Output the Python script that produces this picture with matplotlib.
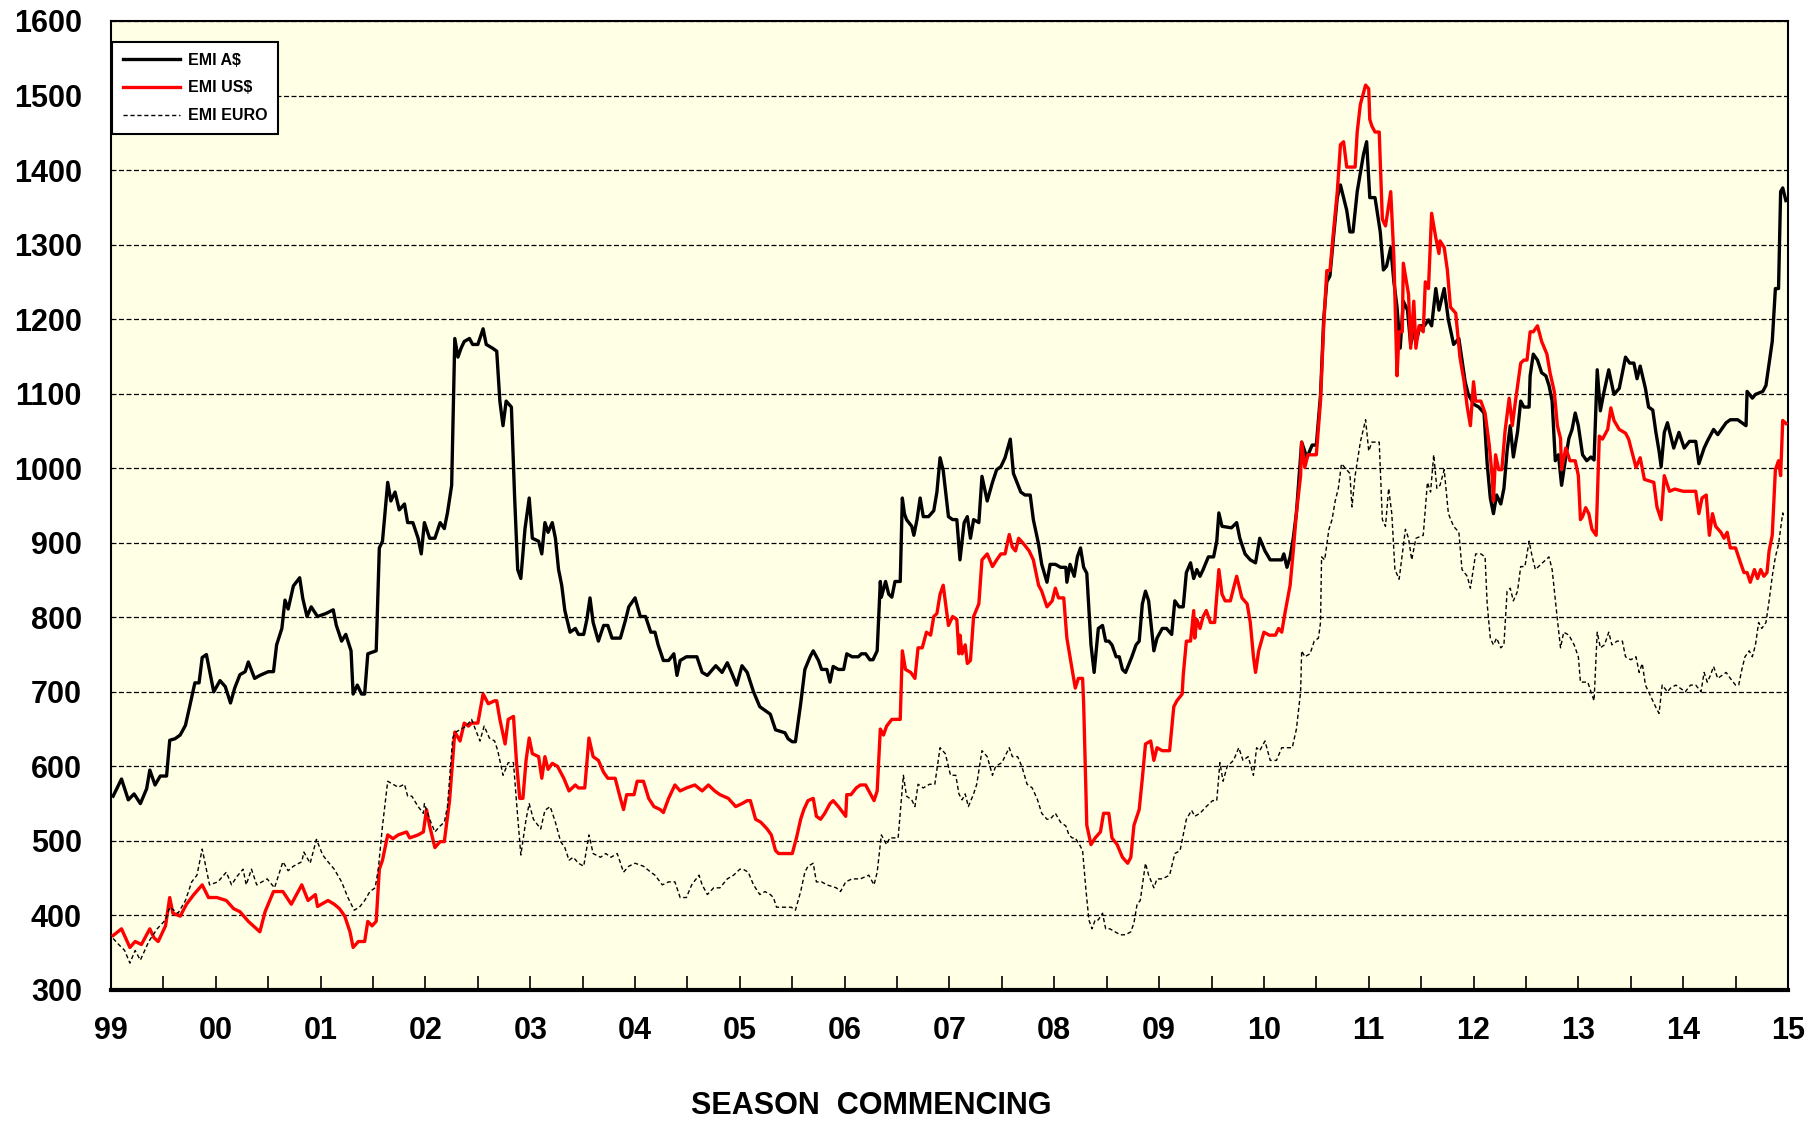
import matplotlib
matplotlib.use("Agg")
import matplotlib.pyplot as plt
from matplotlib.ticker import MultipleLocator

plt.rcParams['font.family'] = ['Liberation Sans', 'DejaVu Sans']
plt.rcParams['font.weight'] = 'bold'

# EMI weekly indicator. x = seasons since July 1999
aud_pts = [
    (0.02, 560), (0.1, 583), (0.165, 555), (0.22, 563), (0.28, 550), (0.34, 570), (0.37, 595),
    (0.42, 575), (0.47, 587), (0.53, 587), (0.56, 635), (0.61, 637), (0.66, 642), (0.71, 655),
    (0.75, 680), (0.8, 712), (0.84, 712), (0.87, 746), (0.91, 750), (0.98, 700), (1.04, 715),
    (1.09, 707), (1.14, 685), (1.18, 705), (1.23, 723), (1.28, 727), (1.31, 740), (1.37, 718),
    (1.42, 722), (1.5, 727), (1.55, 727), (1.58, 763), (1.63, 785), (1.66, 823), (1.69, 811),
    (1.74, 842), (1.8, 853), (1.83, 825), (1.87, 801), (1.91, 814), (1.97, 801), (2.05, 805),
    (2.12, 810), (2.15, 789), (2.2, 768), (2.24, 777), (2.29, 755), (2.31, 697), (2.35, 709),
    (2.39, 697), (2.42, 697), (2.45, 751), (2.53, 755), (2.56, 893), (2.59, 902), (2.64, 981),
    (2.67, 956), (2.71, 968), (2.75, 944), (2.8, 952), (2.83, 927), (2.88, 927), (2.93, 906),
    (2.96, 885), (2.99, 927), (3.04, 906), (3.09, 906), (3.14, 927), (3.18, 919), (3.21, 940),
    (3.25, 977), (3.28, 1174), (3.31, 1149), (3.34, 1161), (3.37, 1170), (3.42, 1174),
    (3.45, 1166), (3.5, 1166), (3.55, 1187), (3.58, 1166), (3.64, 1161), (3.68, 1157),
    (3.71, 1090), (3.74, 1057), (3.77, 1090), (3.82, 1082), (3.85, 964), (3.88, 864),
    (3.91, 852), (3.95, 919), (3.99, 960), (4.02, 906), (4.08, 902), (4.11, 885), (4.14, 927),
    (4.17, 914), (4.21, 927), (4.24, 906), (4.27, 864), (4.3, 843), (4.33, 809), (4.38, 780),
    (4.43, 785), (4.46, 777), (4.51, 777), (4.54, 797), (4.57, 826), (4.6, 793), (4.65, 768),
    (4.7, 789), (4.74, 789), (4.78, 772), (4.86, 772), (4.91, 797), (4.94, 814), (5.0, 826),
    (5.05, 801), (5.1, 801), (5.15, 780), (5.19, 780), (5.22, 763), (5.27, 742), (5.32, 742),
    (5.37, 751), (5.4, 722), (5.43, 742), (5.49, 747), (5.59, 747), (5.64, 726), (5.69, 722),
    (5.77, 735), (5.83, 726), (5.88, 739), (5.92, 726), (5.97, 709), (6.02, 735), (6.07, 726),
    (6.13, 700), (6.19, 680), (6.24, 675), (6.29, 670), (6.34, 649), (6.43, 645), (6.46, 637),
    (6.5, 633), (6.53, 633), (6.58, 684), (6.62, 730), (6.67, 747), (6.7, 755), (6.75, 742),
    (6.78, 730), (6.83, 730), (6.86, 713), (6.89, 734), (6.94, 730), (6.99, 730), (7.02, 751),
    (7.07, 747), (7.13, 747), (7.16, 751), (7.2, 751), (7.24, 743), (7.27, 743), (7.31, 755),
    (7.34, 848), (7.35, 827), (7.39, 848), (7.42, 831), (7.45, 827), (7.48, 848), (7.53, 848),
    (7.55, 960), (7.57, 939), (7.59, 931), (7.64, 922), (7.66, 910), (7.69, 931), (7.72, 960),
    (7.75, 935), (7.8, 935), (7.85, 943), (7.88, 968), (7.91, 1014), (7.94, 997), (7.99, 935),
    (8.03, 931), (8.07, 931), (8.1, 877), (8.14, 927), (8.17, 935), (8.2, 906), (8.23, 931),
    (8.28, 927), (8.31, 989), (8.36, 956), (8.41, 981), (8.45, 998), (8.49, 1002), (8.53, 1014),
    (8.58, 1039), (8.61, 993), (8.68, 968), (8.72, 964), (8.77, 964), (8.8, 931), (8.85, 898),
    (8.88, 871), (8.93, 847), (8.96, 871), (9.01, 871), (9.06, 867), (9.11, 867), (9.12, 847),
    (9.15, 871), (9.19, 855), (9.22, 881), (9.25, 893), (9.28, 867), (9.31, 859), (9.35, 763),
    (9.38, 726), (9.42, 785), (9.46, 789), (9.49, 768), (9.52, 768), (9.55, 763), (9.59, 747),
    (9.62, 747), (9.65, 730), (9.68, 726), (9.74, 747), (9.78, 763), (9.81, 768), (9.84, 818),
    (9.87, 835), (9.9, 822), (9.95, 755), (9.98, 772), (10.03, 785), (10.07, 785), (10.12, 777),
    (10.15, 822), (10.19, 814), (10.23, 814), (10.26, 860), (10.3, 873), (10.33, 852),
    (10.36, 864), (10.39, 855), (10.42, 864), (10.47, 881), (10.52, 881), (10.55, 902),
    (10.57, 940), (10.6, 922), (10.69, 920), (10.74, 927), (10.77, 906), (10.82, 885),
    (10.87, 877), (10.92, 873), (10.96, 906), (11.01, 889), (11.06, 877), (11.17, 877),
    (11.19, 885), (11.22, 867), (11.25, 881), (11.28, 906), (11.31, 940), (11.36, 1035),
    (11.41, 1014), (11.46, 1031), (11.5, 1031), (11.54, 1098), (11.57, 1199), (11.6, 1250),
    (11.63, 1258), (11.66, 1304), (11.7, 1363), (11.73, 1380), (11.76, 1363), (11.79, 1346),
    (11.82, 1317), (11.85, 1317), (11.89, 1371), (11.92, 1396), (11.95, 1421), (11.98, 1438),
    (12.01, 1363), (12.06, 1363), (12.11, 1317), (12.14, 1266), (12.17, 1271), (12.21, 1296),
    (12.24, 1250), (12.27, 1216), (12.3, 1161), (12.33, 1224), (12.37, 1212), (12.4, 1166),
    (12.43, 1183), (12.46, 1174), (12.49, 1191), (12.53, 1191), (12.57, 1199), (12.6, 1191),
    (12.64, 1241), (12.67, 1212), (12.72, 1241), (12.76, 1199), (12.81, 1166), (12.86, 1174),
    (12.89, 1145), (12.92, 1116), (12.95, 1099), (13.0, 1086), (13.05, 1082), (13.1, 1074),
    (13.13, 1006), (13.16, 960), (13.19, 939), (13.22, 964), (13.26, 952), (13.29, 973),
    (13.32, 1023), (13.35, 1057), (13.38, 1015), (13.42, 1049), (13.45, 1090), (13.48, 1082),
    (13.53, 1082), (13.54, 1124), (13.57, 1153), (13.61, 1145), (13.65, 1128), (13.69, 1124),
    (13.72, 1111), (13.75, 1090), (13.78, 1010), (13.81, 1018), (13.84, 977), (13.88, 1015),
    (13.91, 1040), (13.94, 1052), (13.97, 1074), (14.0, 1057), (14.04, 1018), (14.08, 1010),
    (14.12, 1015), (14.15, 1011), (14.18, 1132), (14.21, 1077), (14.24, 1099), (14.29, 1132),
    (14.34, 1099), (14.39, 1107), (14.42, 1128), (14.45, 1149), (14.49, 1141), (14.53, 1141),
    (14.56, 1120), (14.59, 1137), (14.64, 1107), (14.67, 1082), (14.71, 1078), (14.74, 1048),
    (14.77, 1023), (14.79, 1002), (14.82, 1048), (14.85, 1061), (14.88, 1044), (14.91, 1027),
    (14.96, 1048), (15.01, 1027), (15.06, 1036), (15.12, 1036), (15.15, 1006), (15.2, 1027),
    (15.23, 1036), (15.29, 1052), (15.33, 1045), (15.37, 1053), (15.41, 1061), (15.45, 1065),
    (15.52, 1065), (15.56, 1061), (15.6, 1057), (15.61, 1103), (15.66, 1094), (15.69, 1099),
    (15.76, 1103), (15.79, 1111), (15.82, 1141), (15.85, 1170), (15.88, 1241), (15.91, 1241),
    (15.93, 1371), (15.95, 1376), (15.98, 1359),
]

usd_pts = [
    (0.02, 373), (0.1, 382), (0.18, 357), (0.23, 365), (0.29, 361), (0.37, 382), (0.41, 370),
    (0.45, 365), (0.52, 386), (0.56, 424), (0.59, 403), (0.66, 399), (0.72, 415), (0.79, 428),
    (0.87, 441), (0.93, 424), (1.01, 424), (1.1, 420), (1.17, 409), (1.23, 405), (1.31, 392),
    (1.42, 378), (1.47, 405), (1.55, 432), (1.64, 432), (1.72, 415), (1.82, 441), (1.88, 420),
    (1.95, 428), (1.97, 412), (2.07, 420), (2.13, 415), (2.18, 409), (2.23, 399), (2.28, 378),
    (2.31, 357), (2.36, 365), (2.42, 365), (2.45, 392), (2.49, 386), (2.53, 392), (2.56, 462),
    (2.59, 474), (2.64, 508), (2.69, 503), (2.74, 508), (2.82, 512), (2.85, 504), (2.93, 508),
    (2.98, 512), (3.01, 542), (3.04, 520), (3.09, 491), (3.14, 499), (3.18, 499), (3.23, 554),
    (3.28, 646), (3.33, 634), (3.37, 658), (3.41, 654), (3.44, 658), (3.5, 658), (3.55, 697),
    (3.6, 684), (3.66, 688), (3.68, 688), (3.71, 663), (3.76, 630), (3.79, 663), (3.84, 667),
    (3.87, 603), (3.9, 557), (3.93, 557), (3.96, 608), (3.99, 638), (4.02, 617), (4.08, 613),
    (4.11, 584), (4.14, 613), (4.17, 596), (4.21, 604), (4.26, 600), (4.32, 584), (4.37, 567),
    (4.43, 575), (4.46, 571), (4.52, 571), (4.56, 638), (4.6, 613), (4.65, 608), (4.7, 592),
    (4.74, 584), (4.81, 584), (4.86, 557), (4.89, 542), (4.92, 562), (4.99, 562), (5.02, 580),
    (5.08, 580), (5.13, 557), (5.18, 546), (5.24, 542), (5.27, 538), (5.32, 557), (5.38, 575),
    (5.43, 567), (5.49, 571), (5.57, 575), (5.64, 567), (5.7, 575), (5.76, 567), (5.81, 562),
    (5.89, 557), (5.96, 546), (6.02, 550), (6.07, 554), (6.1, 554), (6.15, 529), (6.2, 525),
    (6.26, 516), (6.3, 508), (6.34, 487), (6.37, 483), (6.5, 483), (6.54, 504), (6.58, 529),
    (6.61, 542), (6.65, 554), (6.7, 557), (6.73, 533), (6.77, 529), (6.81, 537), (6.86, 550),
    (6.89, 554), (6.94, 546), (7.01, 533), (7.02, 562), (7.06, 562), (7.11, 571), (7.15, 575),
    (7.2, 575), (7.25, 562), (7.28, 554), (7.31, 567), (7.34, 650), (7.37, 642), (7.4, 654),
    (7.45, 663), (7.53, 663), (7.55, 755), (7.58, 730), (7.63, 726), (7.67, 718), (7.7, 759),
    (7.74, 759), (7.78, 780), (7.82, 776), (7.85, 801), (7.88, 805), (7.91, 831), (7.94, 843),
    (7.99, 789), (8.03, 801), (8.07, 797), (8.09, 751), (8.1, 776), (8.12, 751), (8.15, 763),
    (8.17, 738), (8.2, 742), (8.23, 801), (8.28, 818), (8.31, 877), (8.36, 885), (8.41, 868),
    (8.45, 877), (8.49, 885), (8.53, 885), (8.57, 911), (8.6, 894), (8.63, 889), (8.66, 906),
    (8.71, 898), (8.76, 889), (8.8, 877), (8.85, 843), (8.88, 835), (8.93, 814), (8.98, 822),
    (9.01, 839), (9.04, 826), (9.09, 826), (9.12, 772), (9.17, 730), (9.2, 705), (9.23, 718),
    (9.27, 718), (9.28, 684), (9.31, 521), (9.35, 495), (9.39, 504), (9.44, 512), (9.47, 537),
    (9.52, 537), (9.55, 504), (9.6, 495), (9.65, 478), (9.7, 470), (9.73, 478), (9.76, 521),
    (9.81, 542), (9.84, 584), (9.87, 630), (9.92, 634), (9.95, 608), (9.98, 625), (10.03, 621),
    (10.1, 621), (10.14, 680), (10.17, 688), (10.22, 697), (10.23, 722), (10.26, 768),
    (10.3, 768), (10.33, 809), (10.34, 772), (10.36, 797), (10.39, 785), (10.42, 801),
    (10.45, 809), (10.49, 793), (10.53, 793), (10.57, 864), (10.6, 831), (10.63, 822),
    (10.68, 822), (10.71, 839), (10.74, 855), (10.79, 826), (10.84, 818), (10.87, 793),
    (10.9, 747), (10.92, 726), (10.95, 755), (11.0, 780), (11.05, 776), (11.11, 776),
    (11.14, 785), (11.17, 780), (11.2, 805), (11.25, 843), (11.28, 889), (11.31, 940),
    (11.35, 990), (11.36, 1035), (11.39, 1001), (11.42, 1018), (11.5, 1018), (11.54, 1090),
    (11.57, 1190), (11.6, 1265), (11.63, 1265), (11.66, 1312), (11.7, 1371), (11.73, 1434),
    (11.76, 1438), (11.79, 1404), (11.87, 1404), (11.89, 1451), (11.92, 1488), (11.97, 1514),
    (12.0, 1509), (12.01, 1468), (12.03, 1459), (12.06, 1451), (12.1, 1451), (12.13, 1334),
    (12.16, 1325), (12.21, 1371), (12.24, 1283), (12.27, 1124), (12.29, 1183), (12.32, 1183),
    (12.33, 1275), (12.37, 1241), (12.38, 1233), (12.4, 1161), (12.43, 1224), (12.45, 1161),
    (12.48, 1191), (12.52, 1183), (12.54, 1250), (12.57, 1241), (12.6, 1342), (12.64, 1309),
    (12.67, 1288), (12.68, 1305), (12.72, 1296), (12.75, 1266), (12.78, 1216), (12.83, 1208),
    (12.87, 1149), (12.91, 1116), (12.94, 1082), (12.97, 1057), (13.0, 1116), (13.02, 1090),
    (13.07, 1090), (13.11, 1074), (13.15, 1031), (13.18, 985), (13.19, 956), (13.21, 1018),
    (13.24, 998), (13.27, 998), (13.3, 1049), (13.34, 1094), (13.37, 1057), (13.4, 1090),
    (13.45, 1141), (13.48, 1145), (13.51, 1145), (13.54, 1183), (13.57, 1183), (13.61, 1191),
    (13.65, 1170), (13.7, 1153), (13.73, 1128), (13.77, 1103), (13.8, 1057), (13.83, 1040),
    (13.84, 998), (13.88, 1027), (13.92, 1010), (13.97, 1010), (14.0, 990), (14.02, 931),
    (14.04, 935), (14.07, 947), (14.1, 939), (14.13, 918), (14.17, 910), (14.2, 1043),
    (14.23, 1039), (14.28, 1052), (14.31, 1081), (14.34, 1064), (14.39, 1052), (14.45, 1047),
    (14.48, 1039), (14.55, 1001), (14.59, 1014), (14.63, 985), (14.72, 981), (14.75, 948),
    (14.79, 931), (14.82, 990), (14.87, 969), (14.92, 972), (15.0, 969), (15.12, 969),
    (15.15, 939), (15.18, 960), (15.22, 964), (15.25, 910), (15.28, 939), (15.31, 922),
    (15.36, 914), (15.39, 906), (15.42, 914), (15.45, 893), (15.5, 893), (15.55, 872),
    (15.58, 860), (15.61, 860), (15.64, 847), (15.68, 864), (15.71, 852), (15.74, 864),
    (15.77, 855), (15.8, 860), (15.82, 889), (15.85, 910), (15.88, 998), (15.91, 1010),
    (15.93, 990), (15.95, 1064), (15.98, 1060),
]

eur_pts = [
    (0.02, 369), (0.08, 360), (0.13, 353), (0.18, 336), (0.23, 353), (0.28, 340), (0.36, 365),
    (0.44, 382), (0.52, 394), (0.56, 411), (0.64, 403), (0.71, 420), (0.77, 445), (0.82, 454),
    (0.87, 489), (0.94, 441), (1.02, 445), (1.1, 458), (1.15, 441), (1.2, 452), (1.26, 462),
    (1.29, 441), (1.34, 462), (1.39, 441), (1.49, 449), (1.56, 437), (1.64, 472), (1.69, 460),
    (1.74, 466), (1.82, 472), (1.84, 485), (1.9, 470), (1.96, 502), (2.02, 481), (2.07, 472),
    (2.13, 462), (2.2, 445), (2.26, 424), (2.32, 407), (2.37, 411), (2.42, 420), (2.47, 432),
    (2.52, 437), (2.55, 462), (2.59, 520), (2.64, 580), (2.69, 576), (2.74, 572), (2.8, 576),
    (2.83, 560), (2.87, 560), (2.93, 546), (2.98, 537), (2.99, 550), (3.04, 529), (3.09, 512),
    (3.14, 520), (3.18, 525), (3.21, 546), (3.26, 638), (3.29, 646), (3.34, 650), (3.39, 654),
    (3.44, 663), (3.52, 634), (3.56, 654), (3.61, 638), (3.66, 634), (3.69, 621), (3.74, 588),
    (3.79, 605), (3.84, 605), (3.87, 550), (3.91, 481), (3.96, 529), (3.99, 550), (4.03, 529),
    (4.1, 516), (4.14, 541), (4.19, 546), (4.24, 525), (4.29, 499), (4.33, 491), (4.37, 474),
    (4.41, 478), (4.46, 470), (4.51, 466), (4.56, 508), (4.6, 483), (4.67, 478), (4.72, 483),
    (4.77, 478), (4.83, 483), (4.89, 458), (4.94, 466), (5.0, 470), (5.08, 466), (5.15, 458),
    (5.19, 454), (5.26, 441), (5.32, 445), (5.38, 445), (5.43, 424), (5.49, 424), (5.54, 441),
    (5.61, 454), (5.64, 441), (5.69, 428), (5.75, 437), (5.81, 437), (5.88, 449), (5.94, 454),
    (6.0, 462), (6.03, 462), (6.08, 458), (6.13, 441), (6.19, 428), (6.24, 432), (6.29, 428),
    (6.32, 424), (6.35, 411), (6.49, 411), (6.53, 407), (6.58, 432), (6.62, 458), (6.65, 466),
    (6.7, 470), (6.73, 445), (6.78, 445), (6.83, 441), (6.92, 437), (6.96, 432), (7.01, 445),
    (7.07, 449), (7.15, 449), (7.23, 454), (7.28, 441), (7.31, 458), (7.35, 508), (7.4, 495),
    (7.43, 504), (7.51, 504), (7.56, 588), (7.59, 560), (7.64, 555), (7.67, 546), (7.7, 576),
    (7.75, 571), (7.81, 576), (7.86, 576), (7.91, 625), (7.96, 617), (8.01, 588), (8.06, 588),
    (8.09, 563), (8.12, 555), (8.15, 563), (8.18, 546), (8.23, 563), (8.26, 576), (8.31, 621),
    (8.36, 613), (8.41, 588), (8.44, 600), (8.5, 605), (8.57, 625), (8.6, 613), (8.65, 613),
    (8.69, 600), (8.74, 576), (8.79, 571), (8.84, 555), (8.88, 537), (8.93, 529), (8.96, 529),
    (9.01, 537), (9.06, 525), (9.11, 520), (9.14, 508), (9.17, 504), (9.2, 504), (9.24, 495),
    (9.27, 487), (9.3, 437), (9.33, 394), (9.36, 382), (9.39, 394), (9.42, 394), (9.46, 403),
    (9.49, 382), (9.53, 382), (9.58, 378), (9.63, 374), (9.68, 374), (9.73, 378), (9.76, 390),
    (9.79, 415), (9.82, 420), (9.87, 470), (9.9, 454), (9.95, 437), (9.98, 449), (10.03, 449),
    (10.1, 454), (10.15, 483), (10.2, 487), (10.23, 508), (10.26, 529), (10.31, 541),
    (10.34, 533), (10.39, 537), (10.45, 546), (10.51, 554), (10.55, 554), (10.58, 605),
    (10.61, 580), (10.65, 600), (10.71, 608), (10.76, 625), (10.8, 608), (10.85, 613),
    (10.9, 588), (10.93, 625), (10.96, 621), (11.01, 634), (11.06, 608), (11.12, 608),
    (11.17, 625), (11.27, 625), (11.31, 650), (11.35, 700), (11.36, 755), (11.39, 747),
    (11.44, 751), (11.48, 768), (11.52, 772), (11.54, 793), (11.55, 881), (11.58, 877),
    (11.62, 918), (11.65, 931), (11.68, 956), (11.71, 973), (11.74, 1006), (11.79, 998),
    (11.82, 993), (11.84, 948), (11.87, 990), (11.92, 1035), (11.97, 1065), (12.0, 1023),
    (12.03, 1035), (12.06, 1035), (12.1, 1035), (12.13, 931), (12.16, 922), (12.19, 973),
    (12.22, 939), (12.25, 864), (12.29, 851), (12.32, 885), (12.35, 918), (12.38, 906),
    (12.41, 877), (12.45, 906), (12.52, 910), (12.56, 981), (12.59, 968), (12.62, 1018),
    (12.65, 973), (12.68, 977), (12.72, 998), (12.76, 939), (12.81, 922), (12.86, 914),
    (12.89, 864), (12.94, 855), (12.97, 839), (13.02, 885), (13.07, 885), (13.11, 881),
    (13.13, 818), (13.16, 772), (13.19, 763), (13.22, 772), (13.26, 759), (13.29, 763),
    (13.32, 835), (13.35, 839), (13.38, 822), (13.42, 835), (13.45, 868), (13.49, 868),
    (13.53, 902), (13.56, 881), (13.59, 864), (13.62, 868), (13.65, 872), (13.72, 881),
    (13.75, 864), (13.8, 797), (13.83, 759), (13.86, 780), (13.91, 776), (13.96, 763),
    (14.0, 747), (14.02, 713), (14.09, 713), (14.12, 700), (14.15, 688), (14.18, 780),
    (14.21, 759), (14.25, 763), (14.29, 780), (14.32, 763), (14.37, 768), (14.42, 768),
    (14.45, 747), (14.5, 743), (14.55, 747), (14.58, 726), (14.61, 738), (14.64, 709),
    (14.67, 700), (14.71, 688), (14.74, 679), (14.77, 671), (14.8, 709), (14.85, 700),
    (14.88, 705), (14.93, 709), (14.97, 705), (15.02, 700), (15.07, 709), (15.12, 709),
    (15.17, 700), (15.2, 726), (15.23, 713), (15.26, 722), (15.29, 734), (15.33, 718),
    (15.37, 722), (15.41, 726), (15.45, 718), (15.5, 709), (15.53, 709), (15.56, 730),
    (15.59, 747), (15.63, 755), (15.66, 747), (15.69, 763), (15.72, 793), (15.75, 785),
    (15.79, 793), (15.82, 822), (15.85, 855), (15.88, 881), (15.91, 898), (15.95, 940),
    (15.96, 935),
]

season_labels = ['99', '00', '01', '02', '03', '04', '05', '06', '07', '08',
                 '09', '10', '11', '12', '13', '14', '15']

fig = plt.figure(figsize=(18.2, 11.21), dpi=100)
ax = fig.add_axes([0.061, 0.1169, 0.9214, 0.8644])
ax.set_facecolor('#FFFFE6')

x, y = zip(*aud_pts)
ax.plot(x, y, color='black', lw=2.4, label=r'EMI A\$', zorder=3)
x, y = zip(*usd_pts)
ax.plot(x, y, color='#FF0000', lw=2.4, label=r'EMI US\$', zorder=4)
x, y = zip(*eur_pts)
ax.plot(x, y, color='black', lw=1.0, ls=(0, (3, 2)), label='EMI EURO', zorder=5)

ax.set_xlim(0, 16)
ax.set_ylim(300, 1600)
ax.yaxis.set_major_locator(MultipleLocator(100))
ax.grid(axis='y', color='black', ls=(0, (4, 2)), lw=0.9, zorder=1)
ax.set_axisbelow(True)

ax.set_xticks(range(len(season_labels)))
ax.set_xticklabels(season_labels)
ax.xaxis.set_minor_locator(MultipleLocator(0.5))
ax.tick_params(axis='x', which='both', direction='in', length=10, width=1.2,
               top=False, pad=19, labelsize=22)
ax.tick_params(axis='y', length=0, pad=21, labelsize=22)
for lab in ax.get_xticklabels() + ax.get_yticklabels():
    lab.set_fontweight('bold')

for side in ['left', 'top', 'right']:
    ax.spines[side].set_linewidth(1.5)
ax.spines['bottom'].set_linewidth(3)

leg = ax.legend(loc='upper left', bbox_to_anchor=(0.0007, 0.978), borderaxespad=0,
                fancybox=False, edgecolor='black', framealpha=1,
                handlelength=3.6, handletextpad=0.5, labelspacing=0.8,
                borderpad=0.65, prop={'weight': 'bold', 'size': 11.5})
leg.get_frame().set_linewidth(1.5)

fig.text(0.4785, 0.0135, 'SEASON  COMMENCING', ha='center', va='center',
         fontsize=22, fontweight='bold')

fig.savefig('out.png', dpi=100)
